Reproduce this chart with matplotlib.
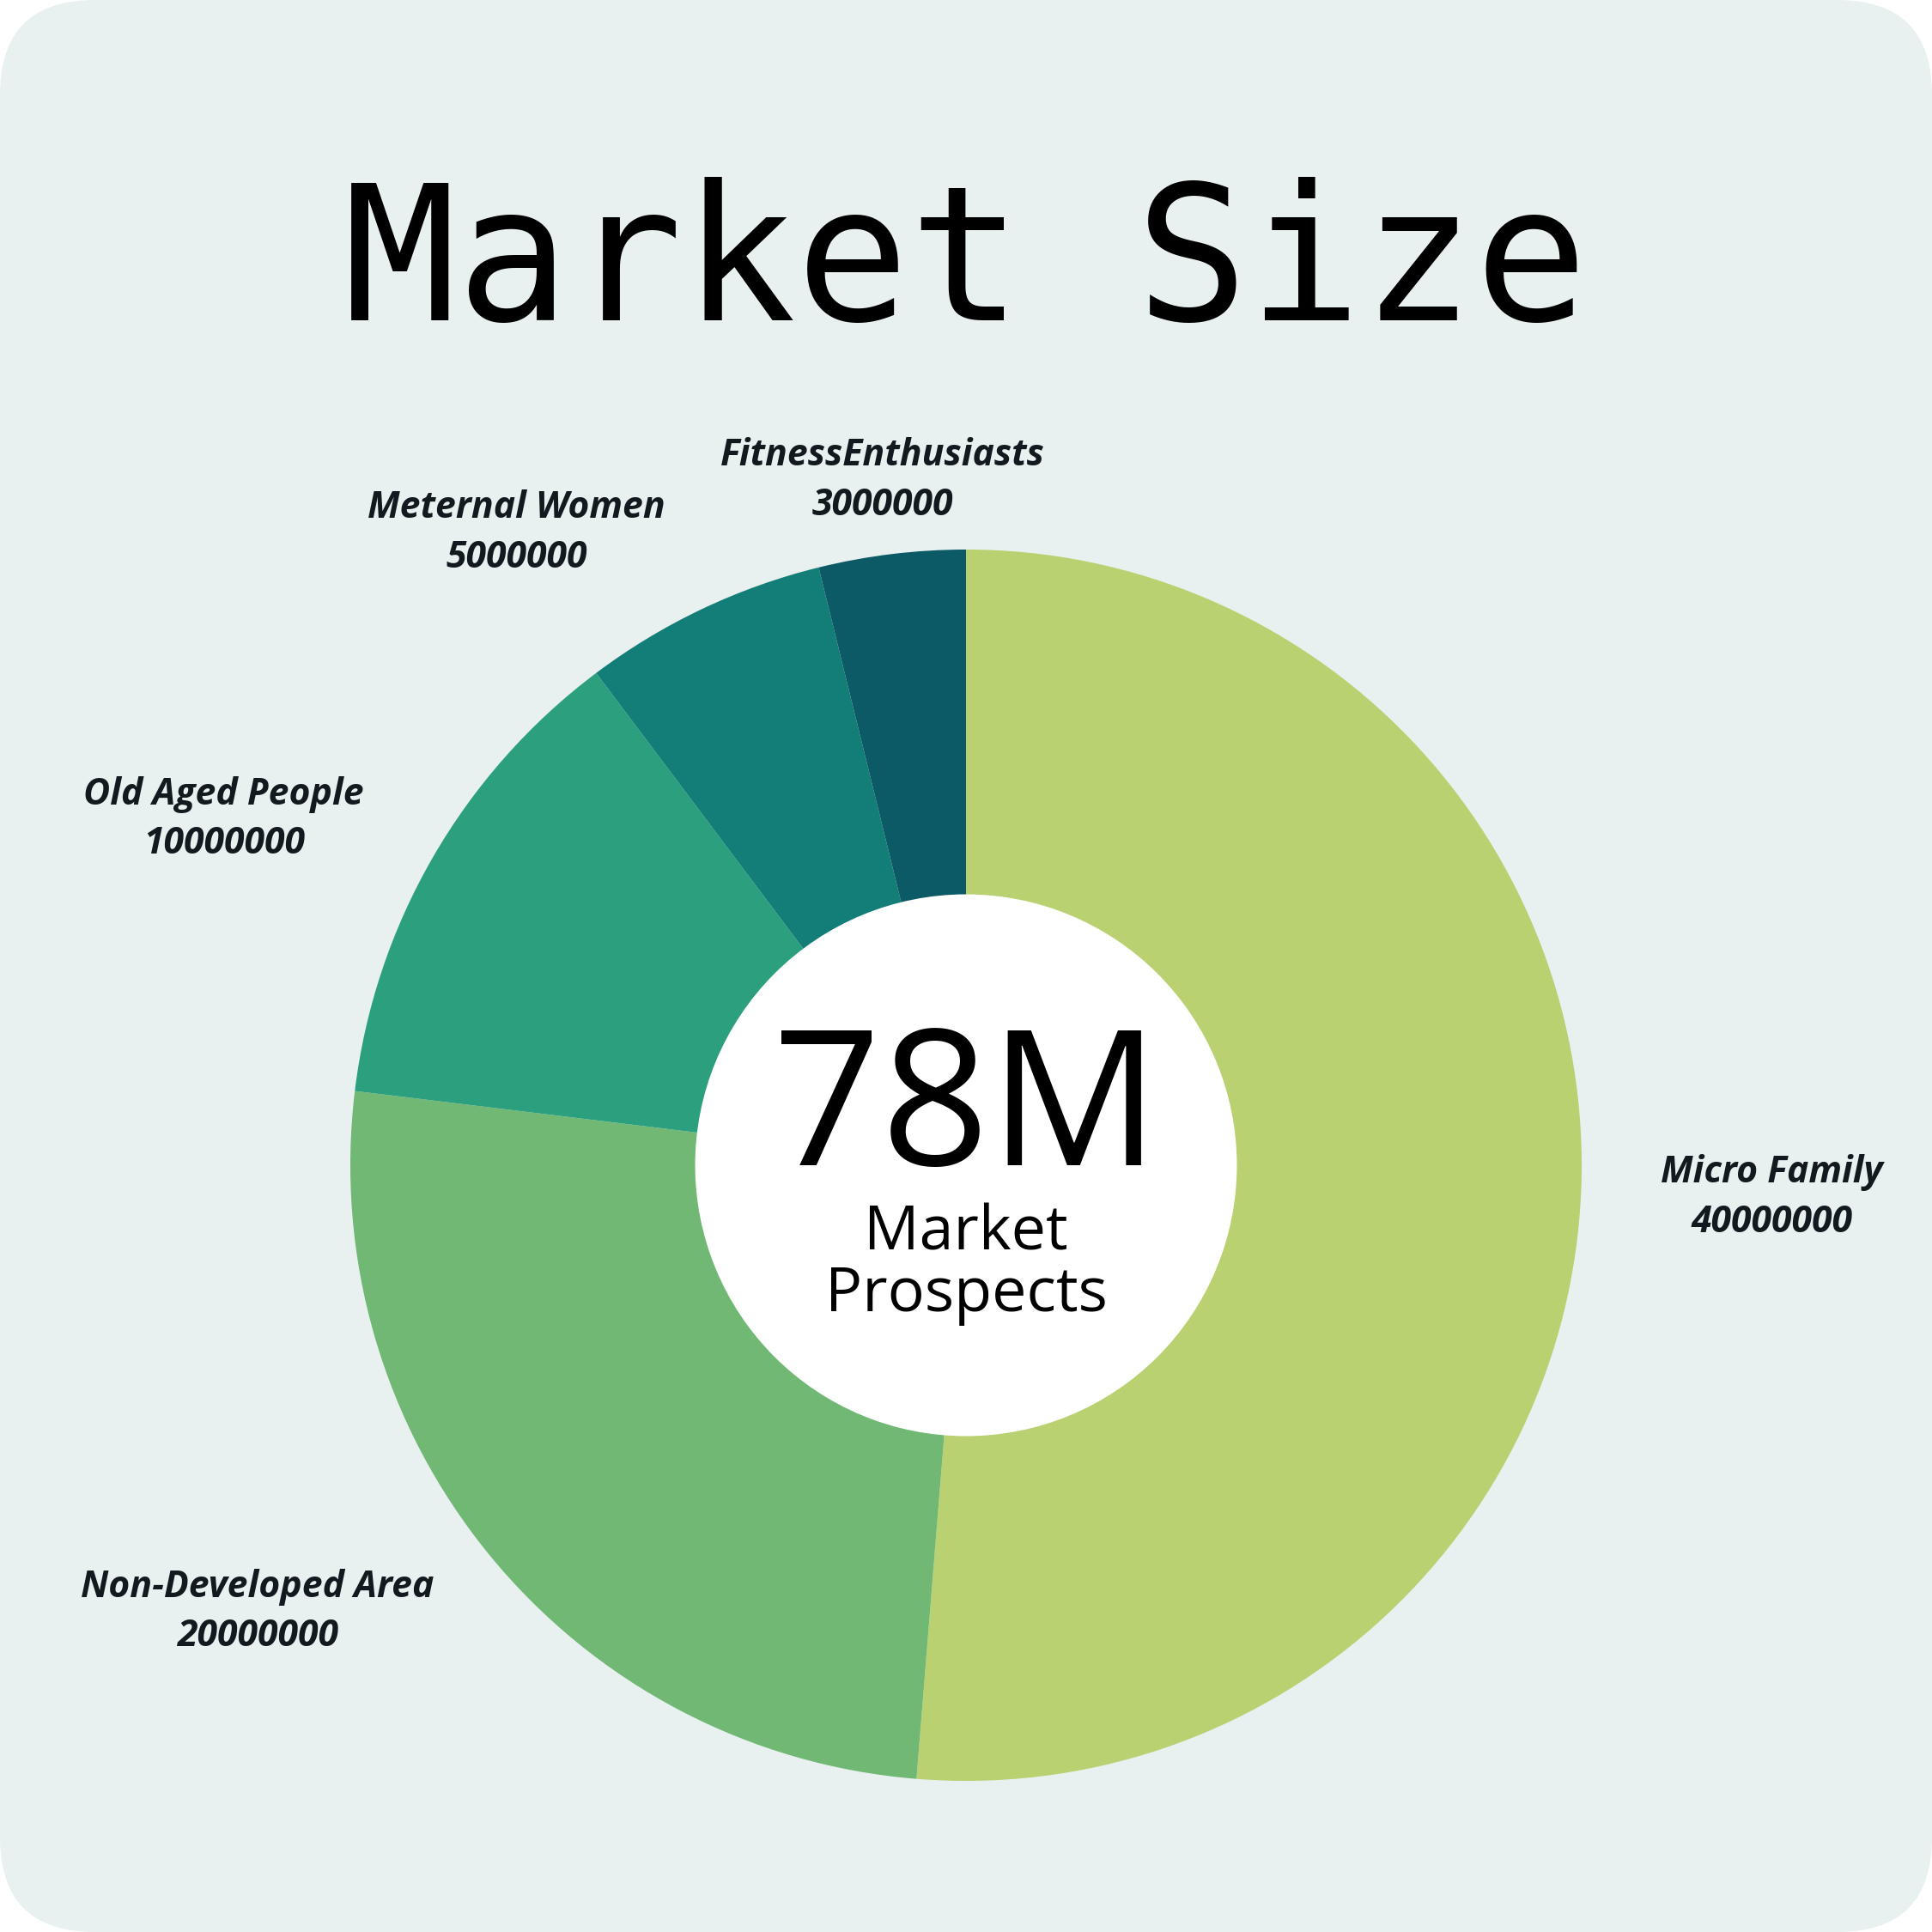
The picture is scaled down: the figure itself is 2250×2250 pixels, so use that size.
import matplotlib.pyplot as plt
from matplotlib.patches import FancyBboxPatch, Circle
import numpy as np

# data
segments = ["Micro Family", "Non-Developed Area", "Old Aged People",
            "Meternal Women", "FitnessEnthusiasts"]
prospects = [40000000, 20000000, 10000000, 5000000, 3000000]
colors = ["#b9d171", "#70b874", "#2ca07e", "#127e77", "#0d5a67"]
total_label = "78M"
center_caption = ["Market", "Prospects"]

# label placement (distance from centre in radii, angle nudge in degrees)
label_dist = [1.31, 1.36, 1.33, 1.26, 1.12]
label_nudge = [0, -7, 5, 10, 0]

W = 2250
cx, cy, R = 1125, 1357, 717   # pixel geometry of the donut

fig = plt.figure(figsize=(9, 9), dpi=250, facecolor="white")
bg = FancyBboxPatch((0, 0), 1, 1, boxstyle="round,pad=0,rounding_size=0.049",
                    transform=fig.transFigure, facecolor="#e8f1f0",
                    edgecolor="none", zorder=-10)
fig.patches.append(bg)

ax = fig.add_axes([0, 0, 1, 1])
ax.patch.set_visible(False)

wedges, _ = ax.pie(prospects, colors=colors, startangle=90, counterclock=False,
                   radius=1, wedgeprops=dict(linewidth=0))
ax.set_xlim(-cx / R, (W - cx) / R)
ax.set_ylim(-(W - cy) / R, cy / R)
ax.set_aspect("equal")
ax.axis("off")
ax.add_patch(Circle((0, 0), 0.44, facecolor="white", edgecolor="none", zorder=3))

for w, name, val, d, nd in zip(wedges, segments, prospects, label_dist, label_nudge):
    ang = np.deg2rad((w.theta1 + w.theta2) / 2 + nd)
    ax.text(d * np.cos(ang), d * np.sin(ang), f"{name}\n{val}",
            ha="center", va="center", fontsize=12.3, family="Open Sans",
            fontweight="bold", style="italic", color="#111a1e",
            linespacing=1.45)

ax.text(0, 0, total_label, ha="center", va="baseline", fontsize=63.5,
        family="Open Sans", color="black", zorder=4)
ax.text(0, -98 / R, center_caption[0], ha="center", va="baseline", fontsize=20.7,
        family="Open Sans", color="black", zorder=4)
ax.text(0, -170 / R, center_caption[1], ha="center", va="baseline", fontsize=20.7,
        family="Open Sans", color="black", zorder=4)

fig.text(0.5, 1 - 312 / W, "Market Size", ha="center", va="center",
         fontsize=63, family="DejaVu Sans Mono", color="black")

plt.savefig("out.png", dpi=250, facecolor=fig.get_facecolor())
